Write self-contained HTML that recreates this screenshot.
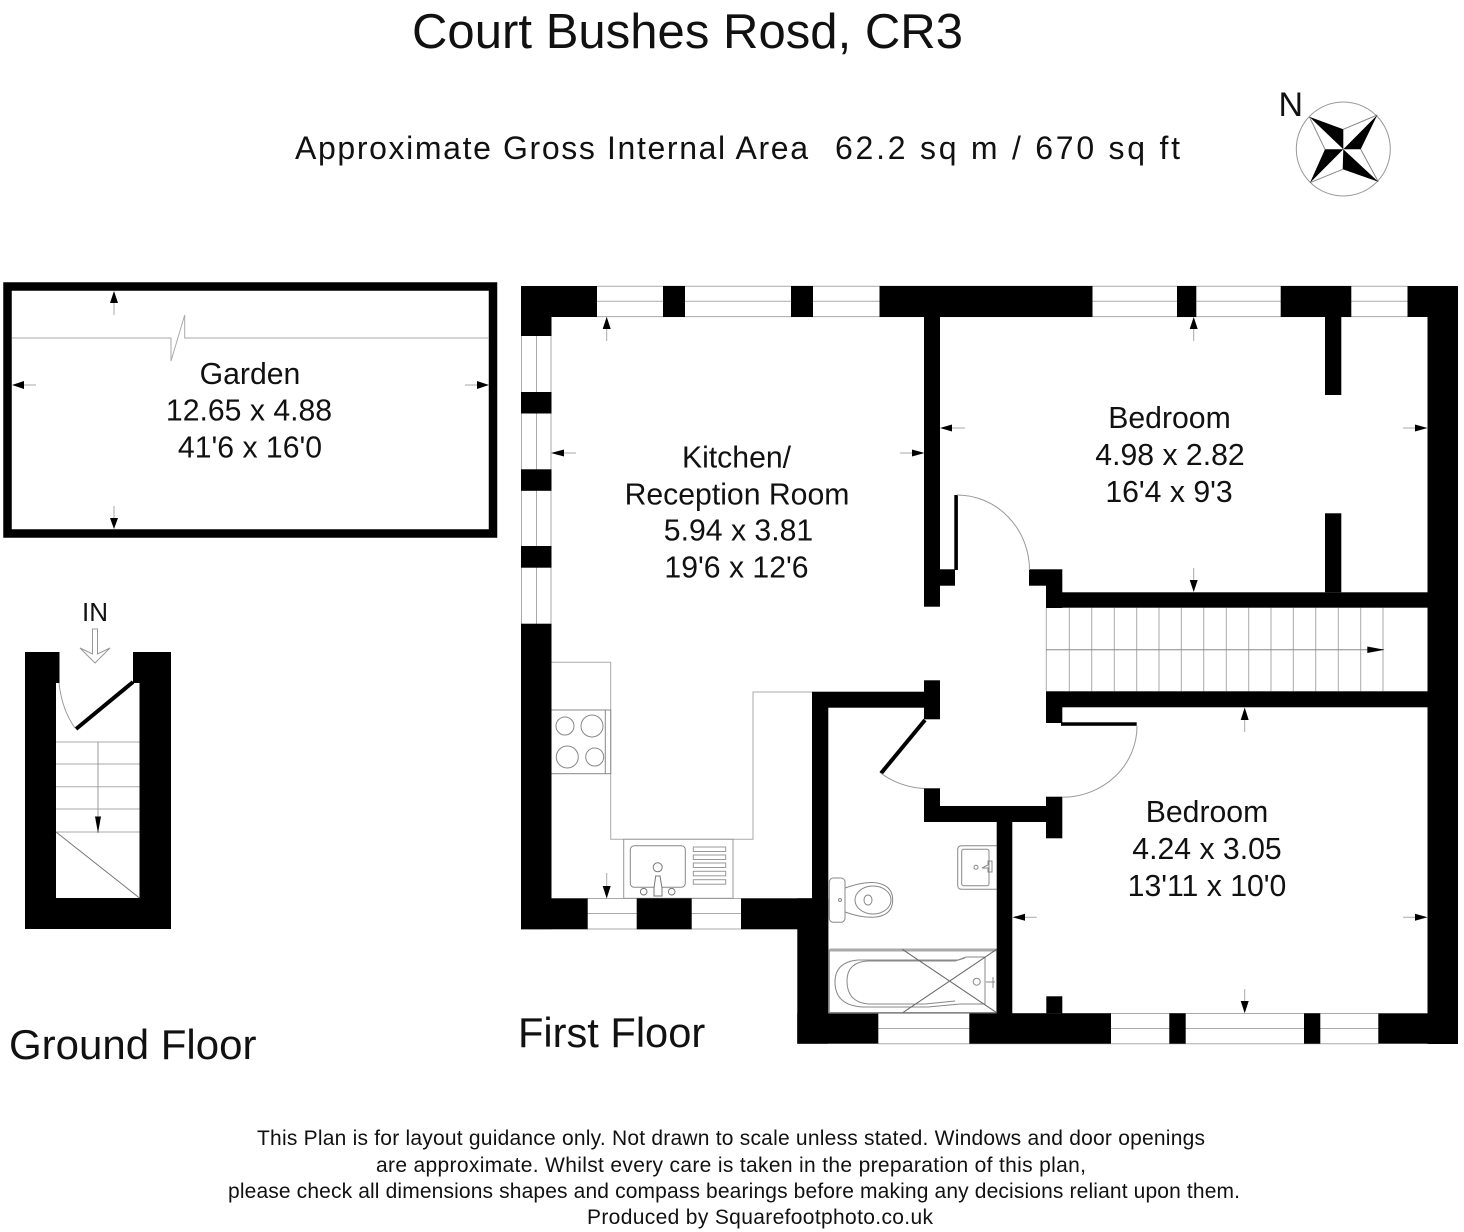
<!DOCTYPE html>
<html lang="en">
<head>
<meta charset="utf-8">
<title>Court Bushes Rosd, CR3 floor plan</title>
<style>
html,body{margin:0;padding:0;background:#fff;width:1464px;height:1232px;overflow:hidden}
svg{display:block}
text{font-family:"Liberation Sans",Arial,sans-serif;fill:#111}
.r{font-size:30.2px;text-anchor:middle}
.f{font-size:21px}
</style>
</head>
<body>
<svg xmlns="http://www.w3.org/2000/svg" width="1464" height="1232" viewBox="0 0 1464 1232">
<rect width="1464" height="1232" fill="#fff"/>

<!-- Headings -->
<text x="412" y="48" font-size="49" textLength="551" lengthAdjust="spacing">Court Bushes Rosd, CR3</text>
<text x="295" y="159" font-size="32" textLength="513" lengthAdjust="spacing">Approximate Gross Internal Area</text>
<text x="835" y="159" font-size="32" textLength="345" lengthAdjust="spacing">62.2 sq m / 670 sq ft</text>

<!-- Compass -->
<text x="1278.5" y="116" font-size="34">N</text>
<circle cx="1343.3" cy="149" r="47" fill="none" stroke="#999" stroke-width="1"/>
<g fill="none" stroke="#888" stroke-width="1">
<path d="M1309.3 116.7L1325 149.3M1377.3 115L1343.3 129.3M1378.3 181.7L1360.7 149.3M1310 182.7L1342.7 169.3"/>
</g>
<g fill="#000">
<polygon points="1309.3,116.7 1343.3,129.3 1343.3,149.3"/>
<polygon points="1377.3,115 1360.7,149.3 1343.3,149.3"/>
<polygon points="1378.3,181.7 1342.7,169.3 1343.3,149.3"/>
<polygon points="1310,182.7 1325,149.3 1343.3,149.3"/>
</g>

<!-- Garden -->
<rect x="7.5" y="286.5" width="485.5" height="247" fill="none" stroke="#000" stroke-width="8.5"/>
<path d="M12 338H171V361L184.7 315V338H489" fill="none" stroke="#aaa" stroke-width="1"/>
<text class="r" x="250" y="384">Garden</text>
<text class="r" x="249" y="420.7">12.65 x 4.88</text>
<text class="r" x="250" y="457.7">41'6 x 16'0</text>

<!-- Ground floor stair -->
<g fill="#000">
<rect x="25" y="652" width="34.5" height="31"/>
<rect x="25" y="652" width="31" height="277"/>
<rect x="133" y="652" width="38" height="31"/>
<rect x="139.5" y="652" width="31.5" height="277"/>
<rect x="25" y="898" width="146" height="31"/>
</g>
<path d="M133 682L76 729" stroke="#000" stroke-width="4" fill="none"/>
<path d="M59 683Q62 710 75 728" stroke="#999" stroke-width="1" fill="none"/>
<path d="M56 742H139.5M56 764H139.5M56 786.7H139.5M56 809H139.5M56 832H139.5" stroke="#aaa" stroke-width="1" fill="none"/>
<path d="M98 742V833" stroke="#999" stroke-width="1" fill="none"/>
<polygon points="95,816.5 101,816.5 98,833" fill="#000"/>
<path d="M56 832L139.5 898" stroke="#777" stroke-width="1" fill="none"/>
<text x="82" y="621" font-size="26">IN</text>
<path d="M92.5 629H97.5V654L110 648L95 663L80 648L92.5 654Z" fill="#fff" stroke="#999" stroke-width="1"/>

<!-- Windows (under walls) -->
<path d="M597 286.3H1407.5M597 301.3H1407.5M597 316.6H1407.5M521.5 336V624M536.5 336V624M551 336V624M587 898.5H741M587 913.5H741M587 929H741M878 1013.5H1378.5M878 1028.5H1378.5M878 1043.7H1378.5" stroke="#aaa" stroke-width="1" fill="none"/>

<!-- Kitchen units -->
<path d="M551 662.3H610.7V839.3H753V692H812" stroke="#aaa" stroke-width="1" fill="none"/>
<rect x="551" y="710" width="59.7" height="63.7" fill="#fff" stroke="#888" stroke-width="1"/>
<path d="M605.3 710V773.7" stroke="#888" stroke-width="1" fill="none"/>
<g fill="none" stroke="#888" stroke-width="1">
<circle cx="565" cy="726" r="9"/>
<circle cx="592" cy="726" r="11"/>
<circle cx="567.3" cy="757" r="11"/>
<circle cx="594.7" cy="757" r="9"/>
</g>
<rect x="623.7" y="839.3" width="109.3" height="59" fill="#fff" stroke="#999" stroke-width="1"/>
<rect x="630.3" y="845.7" width="55" height="41.6" rx="4" fill="none" stroke="#888" stroke-width="1"/>
<g fill="none" stroke="#999" stroke-width="1">
<rect x="693.3" y="847" width="32.4" height="4.5"/>
<rect x="693.3" y="855" width="32.4" height="4.5"/>
<rect x="693.3" y="863" width="32.4" height="4.5"/>
<rect x="693.3" y="871.3" width="32.4" height="4.5"/>
<rect x="693.3" y="879.7" width="32.4" height="4.5"/>
</g>
<g fill="#fff" stroke="#777" stroke-width="1">
<circle cx="657.7" cy="867.3" r="4.5"/>
<circle cx="643.7" cy="891.7" r="3.3"/>
<circle cx="671.7" cy="891.7" r="3.3"/>
<path d="M654 888L655.7 876H660L662 888V896H654Z"/>
</g>

<!-- Bathroom fittings -->
<g fill="none" stroke="#888" stroke-width="1">
<path d="M996.7 845.7H961.7Q957.7 845.7 957.7 849.7V885.3Q957.7 889.3 961.7 889.3H996.7"/>
<rect x="961.7" y="849.3" width="27.3" height="36.4" rx="2"/>
<circle cx="976" cy="867.3" r="2"/>
<path d="M982 868L988 865V861H992V865V872H988V868Z"/>
<rect x="829.3" y="878" width="15.7" height="44.3" rx="4"/>
<path d="M845 888Q862 882 873 882.5Q892.7 884 892.7 900Q892.7 916 873 917.3Q860 917.5 845 912"/>
<ellipse cx="873" cy="900" rx="18" ry="14"/>
<ellipse cx="868" cy="900" rx="4" ry="5"/>
<circle cx="840" cy="900" r="1.5"/>
<rect x="829.3" y="950" width="167.4" height="62.5"/>
<path d="M985 956.7V1005"/>
<path d="M985 957H966L958 960H858Q835 962 835 982Q835 1005 862 1007H928L960 1004H985"/>
<path d="M965 958L955 961H868Q847 962 847 981Q847 1002 868 1004H925L955 1001"/>
<circle cx="976.7" cy="981.7" r="3.5"/>
<path d="M986 982H995M993 977V988"/>
</g>
<path d="M829.3 950H996.7" stroke="#aaa" stroke-width="3" fill="none"/>
<path d="M902.3 949.3L996.7 1012.7M902.7 1012.7L996.7 949.3" stroke="#666" stroke-width="1" fill="none"/>

<!-- Internal stair -->
<path d="M1046.3 607.7V691.3M1069.3 607.7V691.3M1091.7 607.7V691.3M1114.3 607.7V691.3M1136.7 607.7V691.3M1159 607.7V691.3M1181.3 607.7V691.3M1203.7 607.7V691.3M1226.3 607.7V691.3M1248.7 607.7V691.3M1271 607.7V691.3M1293.3 607.7V691.3M1315.7 607.7V691.3M1338.3 607.7V691.3M1360.7 607.7V691.3M1383 607.7V691.3" stroke="#aaa" stroke-width="1" fill="none"/>
<path d="M1046 649.7H1384" stroke="#888" stroke-width="1" fill="none"/>
<polygon points="1367.3,646.5 1384.5,649.7 1367.3,653" fill="#000"/>

<!-- Walls -->
<g fill="#000">
<rect x="521" y="286" width="76" height="31"/>
<rect x="663" y="286" width="22" height="31"/>
<rect x="791" y="286" width="22" height="31"/>
<rect x="879.5" y="286" width="213" height="31"/>
<rect x="1177" y="286" width="19.3" height="31"/>
<rect x="1280.7" y="286" width="70.6" height="31"/>
<rect x="1407.5" y="286" width="50.5" height="31"/>
<rect x="521" y="286" width="30.5" height="50"/>
<rect x="521" y="392" width="30.5" height="21.5"/>
<rect x="521" y="469.3" width="30.5" height="21.5"/>
<rect x="521" y="546" width="30.5" height="21.7"/>
<rect x="521" y="623.7" width="30.5" height="305.5"/>
<rect x="521" y="898.3" width="66.7" height="31"/>
<rect x="636.7" y="898.3" width="55" height="31"/>
<rect x="741" y="898.3" width="71" height="31"/>
<rect x="1427.5" y="286" width="30.5" height="758"/>
<rect x="924" y="317" width="16" height="289.7"/>
<rect x="940" y="569.3" width="15" height="16.4"/>
<rect x="1029" y="569.3" width="33.3" height="16.4"/>
<rect x="1046" y="585" width="16.3" height="23"/>
<rect x="1046" y="592.3" width="381.5" height="15.4"/>
<rect x="1325" y="317" width="16.3" height="78"/>
<rect x="1325" y="513.3" width="16.3" height="79"/>
<rect x="1046" y="691.3" width="381.5" height="16"/>
<rect x="1046" y="707" width="16.3" height="16"/>
<rect x="1046" y="796.7" width="16.3" height="41.6"/>
<rect x="924" y="806" width="122" height="16"/>
<rect x="924" y="788.3" width="16" height="20"/>
<rect x="996.7" y="822" width="15.6" height="192"/>
<rect x="812" y="691.7" width="112" height="16"/>
<rect x="924" y="680.3" width="16" height="39"/>
<rect x="812" y="700" width="16.3" height="317"/>
<rect x="797.3" y="898.3" width="31" height="145.4"/>
<rect x="797.3" y="1013.3" width="81" height="30.4"/>
<rect x="969.3" y="1013.3" width="141.7" height="30.4"/>
<rect x="1169.3" y="1013.3" width="16.4" height="30.4"/>
<rect x="1304" y="1013.3" width="16.3" height="30.4"/>
<rect x="1378.3" y="1013.3" width="79.7" height="30.4"/>
<rect x="1046.3" y="996.3" width="16" height="17"/>
</g>

<!-- Doors -->
<rect x="954.3" y="495" width="3.6" height="75" fill="#000"/>
<path d="M957 495A72.5 75 0 0 1 1029.5 570" stroke="#999" stroke-width="1" fill="none"/>
<rect x="1061" y="722.3" width="75.7" height="3.5" fill="#000"/>
<path d="M1137 726A75 71 0 0 1 1062 797.3" stroke="#999" stroke-width="1" fill="none"/>
<path d="M925 720L881 773.3" stroke="#000" stroke-width="4" fill="none"/>
<path d="M881 773.3Q900 787 924 788.5" stroke="#999" stroke-width="1" fill="none"/>

<!-- Dimension arrows -->
<g stroke="#aaa" stroke-width="1" fill="none">
<path d="M114 303V315M114 518V506M24 385H36M477 385H465"/>
<path d="M606.7 329V341M564 453H576M912 453H900M606.7 886V873"/>
<path d="M1193.7 329V341M1193.7 580V568M952 428H965M1415 428H1403"/>
<path d="M1244.7 720V732M1244.7 1001V989M1025 917.3H1036.7M1415 917.3H1403"/>
</g>
<g fill="#000">
<polygon points="114,291 110,303 118,303"/>
<polygon points="114,529 110,518 118,518"/>
<polygon points="12,385 24,381 24,389"/>
<polygon points="489,385 477,381 477,389"/>
<polygon points="606.7,316.7 602.7,329 610.7,329"/>
<polygon points="551,453 564,449.5 564,456.5"/>
<polygon points="924.5,453 912,449.5 912,456.5"/>
<polygon points="606.7,898.5 602.7,886 610.7,886"/>
<polygon points="1193.7,317 1189.7,329 1197.7,329"/>
<polygon points="1193.7,592 1189.7,580 1197.7,580"/>
<polygon points="940,428 952,424.5 952,431.5"/>
<polygon points="1427.5,428 1415,424.5 1415,431.5"/>
<polygon points="1244.7,707.5 1240.7,720 1248.7,720"/>
<polygon points="1244.7,1013.3 1240.7,1001 1248.7,1001"/>
<polygon points="1012.5,917.3 1025,913.8 1025,920.8"/>
<polygon points="1427.5,917.3 1415,913.8 1415,920.8"/>
</g>

<!-- Room labels -->
<text class="r" x="736.5" y="467.7">Kitchen/</text>
<text class="r" x="737" y="504.3">Reception Room</text>
<text class="r" x="738.5" y="540.7">5.94 x 3.81</text>
<text class="r" x="736.5" y="577.3">19'6 x 12'6</text>

<text class="r" x="1169.5" y="428">Bedroom</text>
<text class="r" x="1170" y="465">4.98 x 2.82</text>
<text class="r" x="1169" y="502">16'4 x 9'3</text>

<text class="r" x="1207" y="822">Bedroom</text>
<text class="r" x="1207" y="859">4.24 x 3.05</text>
<text class="r" x="1207" y="896">13'11 x 10'0</text>

<text x="9" y="1059" font-size="42">Ground Floor</text>
<text x="518" y="1047" font-size="41.6">First Floor</text>

<!-- Footer -->
<text class="f" x="257" y="1145" textLength="948" lengthAdjust="spacing">This Plan is for layout guidance only. Not drawn to scale unless stated. Windows and door openings</text>
<text class="f" x="376" y="1172" textLength="710" lengthAdjust="spacing">are approximate. Whilst every care is taken in the preparation of this plan,</text>
<text class="f" x="228" y="1198" textLength="1012" lengthAdjust="spacing">please check all dimensions shapes and compass bearings before making any decisions reliant upon them.</text>
<text class="f" x="587" y="1224" textLength="346" lengthAdjust="spacing">Produced by Squarefootphoto.co.uk</text>
</svg>
</body>
</html>
